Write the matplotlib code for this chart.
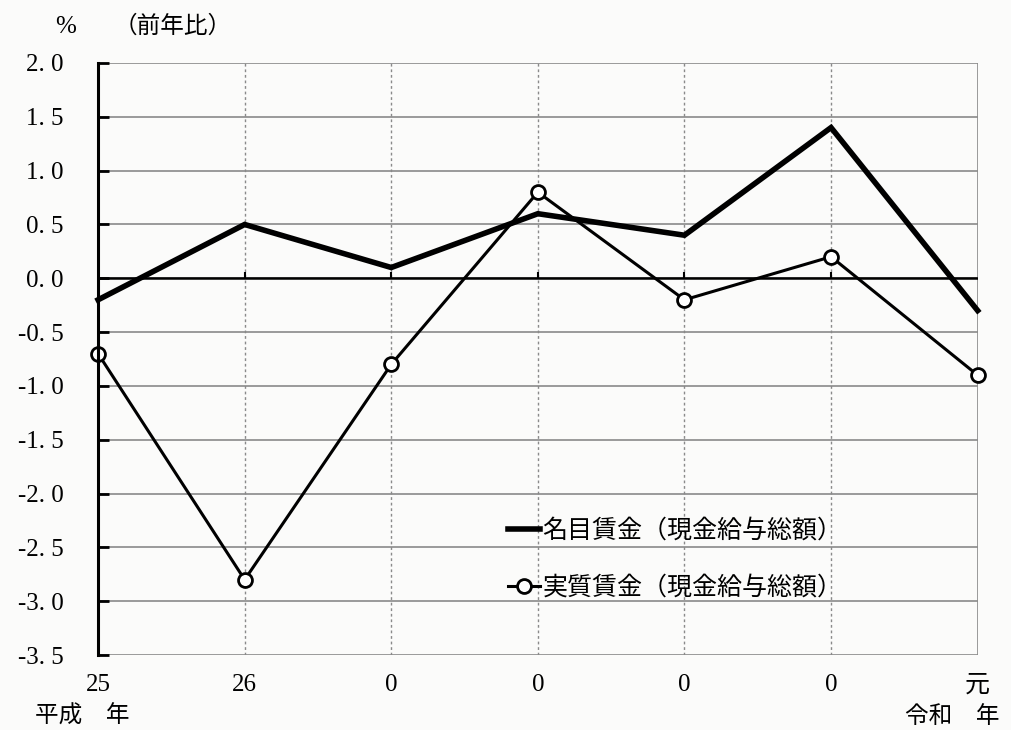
import matplotlib.pyplot as plt
import numpy as np

plt.rcParams['font.family'] = ['Liberation Serif', 'Noto Sans CJK JP', 'DejaVu Sans']

# 年 라벨
years = ['25', '26', '0', '0', '0', '0', '元']
# 명목임금 / 실질임금 (전년비 %)
nominal = [-0.2, 0.5, 0.1, 0.6, 0.4, 1.4, -0.3]
real = [-0.7, -2.8, -0.8, 0.8, -0.2, 0.2, -0.9]
y_ticks = [2.0, 1.5, 1.0, 0.5, 0.0, -0.5, -1.0, -1.5, -2.0, -2.5, -3.0, -3.5]

x = np.arange(len(years))

fig = plt.figure(figsize=(10.11, 7.3), dpi=100)
fig.patch.set_facecolor('#fbfbfa')
ax = fig.add_axes([0.097, 0.1027, 0.870, 0.811])
ax.set_facecolor('#fbfbfa')

ax.set_xlim(0, 6)
ax.set_ylim(-3.5, 2.0)

# 그리드
for v in y_ticks:
    ax.axhline(v, color='#8a8a8a', lw=1.2, zorder=1)
for xi in x[1:6]:
    ax.axvline(xi, color='#8a8a8a', lw=1.0, ls=(0, (2, 2)), zorder=1)
ax.axvline(6, color='#8a8a8a', lw=1.2, zorder=1)
ax.axhline(0, color='black', lw=1.8, zorder=2)
ax.vlines(x[1:6], 0, 0.06, color='black', lw=1.5, zorder=2)

ax.plot(x, nominal, color='black', lw=4, solid_joinstyle='miter', zorder=4,
        clip_on=False, label='名目賃金（現金給与総額）')
ax.plot(x, real, color='black', lw=2.2, marker='o', markersize=10,
        markerfacecolor='white', markeredgecolor='black', markeredgewidth=2,
        zorder=5, clip_on=False, label='実質賃金（現金給与総額）')

for s in ['top', 'right', 'bottom']:
    ax.spines[s].set_visible(False)
ax.spines['left'].set_linewidth(2.2)
ax.spines['left'].set_zorder(6)

ax.set_yticks(y_ticks)
ax.set_yticklabels([f'{v:.1f}'.replace('.', '. ') for v in y_ticks], fontsize=18)
ax.tick_params(axis='y', direction='in', length=8, width=2, pad=25)

ax.set_xticks(x)
ax.set_xticklabels(years, fontsize=18)
ax.tick_params(axis='x', length=0, pad=14)

fig.text(0.055, 0.955, '%', fontsize=18)
fig.text(0.112, 0.955, '（前年比）', fontsize=17, family=['Noto Sans CJK JP'])
fig.text(0.035, 0.01, '平成　年', fontsize=17, family=['Noto Sans CJK JP'])
fig.text(0.895, 0.01, '令和　年', fontsize=17, family=['Noto Sans CJK JP'])

leg = ax.legend(loc='upper left', bbox_to_anchor=(0.44, 0.27), frameon=False,
                handlelength=1.3, handletextpad=0.1, labelspacing=1.25,
                prop={'family': ['Noto Sans CJK JP'], 'size': 18})

fig.savefig('out.png', dpi=100, facecolor=fig.get_facecolor())
